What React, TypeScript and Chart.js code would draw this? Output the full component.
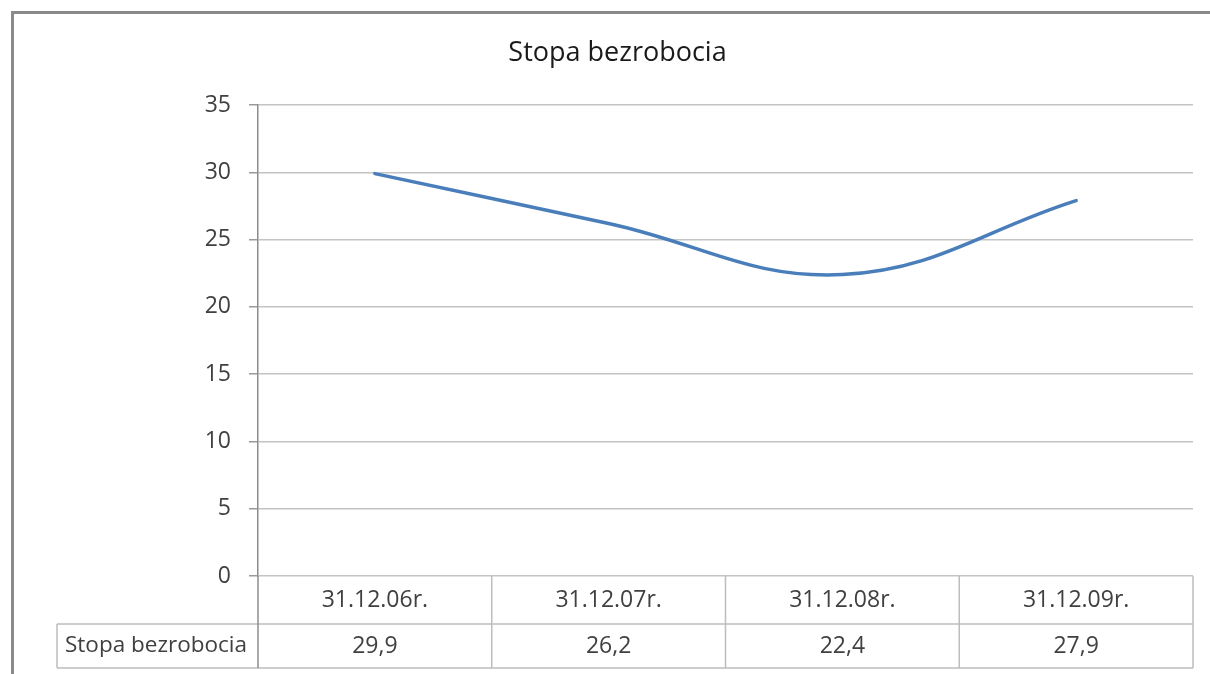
import React, { useEffect, useRef } from "react";
import { Chart, registerables } from "chart.js";

Chart.register(...registerables);

const categories = ["31.12.06r.", "31.12.07r.", "31.12.08r.", "31.12.09r."];
const seriesName = "Stopa bezrobocia";
const seriesValues = [29.9, 26.2, 22.4, 27.9];
const chartTitle = "Stopa bezrobocia";
const yTicks = { min: 0, max: 35, step: 5 };

const FONT = "'Open Sans', 'Noto Sans', sans-serif";
const TEXT = "#404040";
const TABLE_LINE = "#bdbdbd";

const fmt = (v: number) => v.toFixed(1).replace(".", ",");

const tablePlugin = {
  id: "dataTable",
  afterDraw(chart: any) {
    const ctx = chart.ctx as CanvasRenderingContext2D;
    const xs = chart.scales.x;
    const area = chart.chartArea;
    const top = area.bottom;
    const mid = top + 48;
    const bot = mid + 44;
    const leftCell = 57;
    const n = categories.length;
    const half = (xs.getPixelForValue(1) - xs.getPixelForValue(0)) / 2;
    ctx.save();
    ctx.strokeStyle = TABLE_LINE;
    ctx.lineWidth = 1.5;
    ctx.beginPath();
    ctx.moveTo(leftCell, mid);
    ctx.lineTo(area.right, mid);
    ctx.moveTo(leftCell, bot);
    ctx.lineTo(area.right, bot);
    ctx.moveTo(leftCell, mid);
    ctx.lineTo(leftCell, bot);
    ctx.moveTo(area.right, top);
    ctx.lineTo(area.right, bot);
    for (let i = 1; i < n; i++) {
      const x = xs.getPixelForValue(i) - half;
      ctx.moveTo(x, top);
      ctx.lineTo(x, bot);
    }
    ctx.stroke();
    ctx.strokeStyle = "#8c8c8c";
    ctx.beginPath();
    ctx.moveTo(area.left, top);
    ctx.lineTo(area.left, bot);
    ctx.stroke();

    ctx.fillStyle = TEXT;
    ctx.font = `23px ${FONT}`;
    ctx.textBaseline = "middle";
    ctx.textAlign = "center";
    categories.forEach((c, i) => {
      ctx.fillText(c, xs.getPixelForValue(i), (top + mid) / 2);
    });
    seriesValues.forEach((v, i) => {
      ctx.fillText(fmt(v), xs.getPixelForValue(i), (mid + bot) / 2);
    });
    ctx.font = `22.5px ${FONT}`;
    ctx.textAlign = "left";
    ctx.fillText(seriesName, leftCell + 8, (mid + bot) / 2);
    ctx.restore();
  },
};

export default function App() {
  const ref = useRef<HTMLCanvasElement>(null);
  useEffect(() => {
    if (!ref.current) return;
    const chart = new Chart(ref.current, {
      type: "line",
      data: {
        labels: categories,
        datasets: [
          {
            label: seriesName,
            data: seriesValues,
            borderColor: "#4a7ebb",
            borderWidth: 3.5,
            pointRadius: 0,
            tension: 0.4,
            borderCapStyle: "round",
            fill: false,
          },
        ],
      },
      options: {
        animation: false,
        responsive: false,
        maintainAspectRatio: false,
        layout: { padding: { left: 42, right: 17, top: 0, bottom: 98 } },
        plugins: {
          legend: { display: false },
          tooltip: { enabled: false },
          title: {
            display: true,
            text: chartTitle,
            color: "#1a1a1a",
            font: { family: FONT, size: 27, weight: "normal" },
            padding: { top: 37, bottom: 35.6 },
          },
        },
        scales: {
          x: {
            display: false,
            offset: true,
          },
          y: {
            min: yTicks.min,
            max: yTicks.max,
            afterFit(axis: any) {
              axis.width = 216;
            },
            ticks: {
              stepSize: yTicks.step,
              color: TEXT,
              font: { family: FONT, size: 23 },
              padding: 18,
            },
            grid: {
              color: "#c4c4c4",
              lineWidth: 1.5,
              tickLength: 9,
              tickColor: "#9a9a9a",
            },
            border: { display: true, color: "#8c8c8c", width: 1.5 },
          },
        },
      },
      plugins: [tablePlugin],
    });
    return () => chart.destroy();
  }, []);

  return (
    <div style={{ position: "fixed", left: 0, top: 0, width: 1210, height: 674, background: "#fff", overflow: "hidden" }}>
      <div
        style={{
          position: "absolute",
          left: 11,
          top: 11,
          width: 1300,
          height: 800,
          borderLeft: "3px solid #8a8a8a",
          borderTop: "3px solid #8a8a8a",
          boxSizing: "border-box",
        }}
      />
      <canvas ref={ref} width={1210} height={674} style={{ position: "absolute", left: 0, top: 0 }} />
    </div>
  );
}
